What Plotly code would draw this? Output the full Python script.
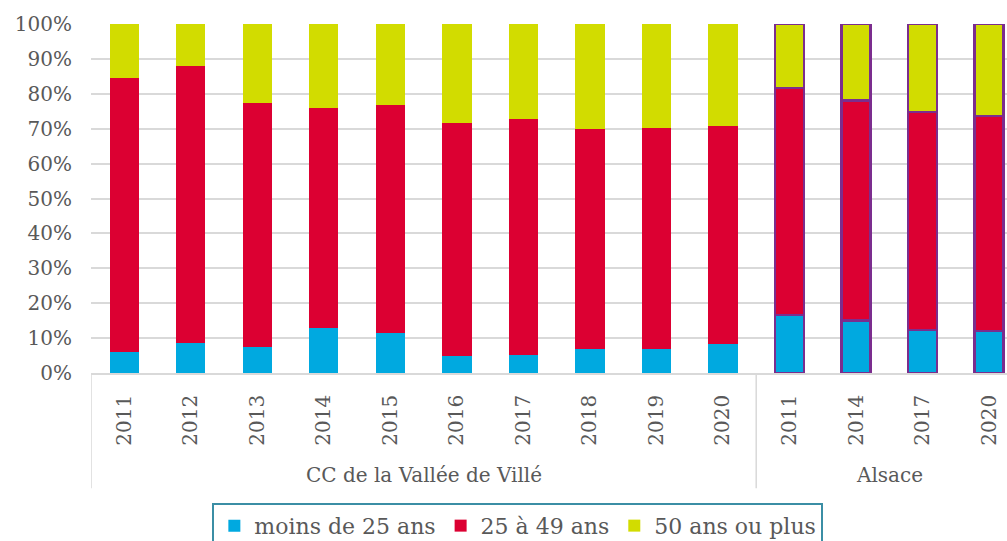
import plotly.graph_objects as go

# --- données (parts en %) ---
groups = ['CC de la Vallée de Villé'] * 10 + ['Alsace'] * 4
years = ['2011', '2012', '2013', '2014', '2015', '2016', '2017', '2018', '2019', '2020',
         '2011', '2014', '2017', '2020']
moins_25 = [5.9, 8.6, 7.4, 12.8, 11.5, 5.0, 5.2, 6.8, 7.0, 8.4, 16.6, 15.1, 12.3, 12.1]
de_25_49 = [78.6, 79.5, 70.0, 63.2, 65.4, 66.7, 67.5, 63.1, 63.1, 62.5, 65.1, 63.0, 62.5, 61.5]
plus_50 = [15.5, 11.9, 22.6, 24.0, 23.1, 28.3, 27.3, 30.1, 29.9, 29.1, 18.3, 21.9, 25.2, 26.4]

series_names = ['moins de 25 ans', '25 à 49 ans', '50 ans ou plus']
series_colors = ['#00A9E0', '#DC0032', '#D2DC00']

TXT = '#595959'
GRID = '#D9D9D9'
FONT = 'DejaVu Serif'

x = list(range(len(years)))
# contour violet pour les barres Alsace
edge_col = ['rgba(0,0,0,0)' if g != 'Alsace' else '#7B2D8E' for g in groups]
edge_w = [0 if g != 'Alsace' else 2.5 for g in groups]

fig = go.Figure()
for name, vals, col in zip(series_names, [moins_25, de_25_49, plus_50], series_colors):
    fig.add_trace(go.Bar(
        x=x, y=[v / 100 for v in vals], name=name, width=0.44,
        marker=dict(color=col, line=dict(color=edge_col, width=edge_w)),
    ))

fig.update_layout(
    barmode='stack',
    width=1007, height=541,
    margin=dict(l=91, r=0, t=24, b=168, autoexpand=False),
    plot_bgcolor='white', paper_bgcolor='white',
    font=dict(family=FONT, size=20, color=TXT),
    showlegend=True,
    legend=dict(
        orientation='h', x=0.466, xanchor='center', y=-0.372, yanchor='top',
        bordercolor='#3B8EA5', borderwidth=2, bgcolor='white',
        font=dict(family=FONT, size=22, color=TXT), itemwidth=30,
        traceorder='normal',
    ),
)

fig.update_yaxes(
    range=[0, 1], dtick=0.1, tickformat='.0%',
    showgrid=True, gridcolor=GRID, gridwidth=1.5,
    zeroline=False, showline=False,
    ticks='outside', ticklen=14, tickcolor='rgba(0,0,0,0)',
    tickfont=dict(family=FONT, size=20, color=TXT),
)
fig.update_xaxes(
    range=[-0.5, 13.27],
    tickmode='array', tickvals=x, ticktext=years, tickangle=-90,
    showgrid=False, zeroline=False,
    showline=True, linecolor=GRID, linewidth=1.5,
    ticks='outside', ticklen=12, tickcolor='rgba(0,0,0,0)',
    tickfont=dict(family=FONT, size=20, color=TXT),
)

# séparateurs de groupes et libellés
for xs in [-0.5, 9.5]:
    fig.add_shape(type='line', xref='x', yref='paper', x0=xs, x1=xs, y0=0, y1=-0.33,
                  line=dict(color=GRID, width=1.5))
for lab, xc in [('CC de la Vallée de Villé', 4.5), ('Alsace', 11.5)]:
    fig.add_annotation(text=lab, xref='x', yref='paper', x=xc, y=-0.292,
                       yanchor='middle', showarrow=False,
                       font=dict(family=FONT, size=20, color=TXT))

fig.write_html('out.html', config={'displayModeBar': False},
               post_script="document.body.style.margin='0px';")
